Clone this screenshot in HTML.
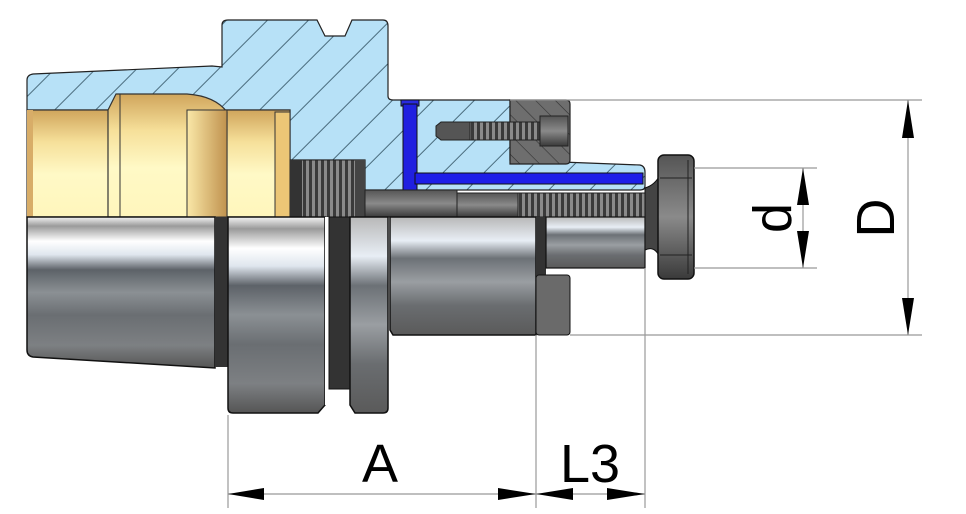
<!DOCTYPE html>
<html><head><meta charset="utf-8"><style>
html,body{margin:0;padding:0;background:#fff;}
svg{display:block;}
text{font-family:"Liberation Sans",sans-serif;fill:#000;}
</style></head><body>
<svg width="966" height="514" viewBox="0 0 966 514" xmlns="http://www.w3.org/2000/svg">
<defs>
<pattern id="hatch" patternUnits="userSpaceOnUse" width="29" height="29" patternTransform="rotate(-45)">
<rect width="29" height="29" fill="#b7e1f7"/>
<line x1="0" y1="0" x2="29" y2="0" stroke="#2a4a5a" stroke-width="1.6"/>
</pattern>
<pattern id="hatch2" patternUnits="userSpaceOnUse" width="14" height="14" patternTransform="rotate(45)">
<rect width="14" height="14" fill="#6e6e6e"/>
<line x1="0" y1="0" x2="14" y2="0" stroke="#333" stroke-width="1.2"/>
</pattern>
<linearGradient id="gold" x1="0" y1="0" x2="0" y2="1">
<stop offset="0" stop-color="#d0a55c"/><stop offset="0.3" stop-color="#f6e09a"/><stop offset="0.6" stop-color="#fff9c6"/><stop offset="1" stop-color="#fff6bc"/>
</linearGradient>
<linearGradient id="goldR" x1="0" y1="0" x2="1" y2="0">
<stop offset="0" stop-color="#fae8a8"/><stop offset="1" stop-color="#c0924e"/>
</linearGradient>
<linearGradient id="steel" x1="0" y1="0" x2="0" y2="1">
<stop offset="0" stop-color="#f4f4f4"/><stop offset="0.06" stop-color="#9a9a9a"/><stop offset="0.16" stop-color="#ffffff"/><stop offset="0.25" stop-color="#dfe6ee"/><stop offset="0.35" stop-color="#5d6268"/><stop offset="0.5" stop-color="#8b9094"/><stop offset="0.65" stop-color="#6a6e72"/><stop offset="0.85" stop-color="#7d8083"/><stop offset="1" stop-color="#555"/>
</linearGradient>
<linearGradient id="steel2" x1="0" y1="0" x2="0" y2="1">
<stop offset="0" stop-color="#b8b8b8"/><stop offset="0.2" stop-color="#e8eef5"/><stop offset="0.35" stop-color="#6c7176"/><stop offset="0.55" stop-color="#9a9ea2"/><stop offset="0.75" stop-color="#6a6d70"/><stop offset="1" stop-color="#5a5a5a"/>
</linearGradient>
<linearGradient id="dark" x1="0" y1="0" x2="0" y2="1">
<stop offset="0" stop-color="#555"/><stop offset="0.5" stop-color="#8a8a8a"/><stop offset="1" stop-color="#3a3a3a"/>
</linearGradient>
<pattern id="thread" patternUnits="userSpaceOnUse" width="6" height="10">
<rect width="6" height="10" fill="#3a3a3a"/><rect x="0" width="3" height="10" fill="#8a8a8a"/>
</pattern>
</defs>

<path d="M27,80 Q27,75 33,74 L212,66 L222,67 L222,25 Q222,20 228,20 L317,20 L325,36 L345,36 L352,20 L383,20 Q388,20 388,26 L388,96 Q388,100 393,100 L510,100 L510,160 L640,165 Q645,166 645,172 L645,186 Q645,190 640,190 L365,190 L365,160 L290,160 L290,110 L27,110 Z" fill="url(#hatch)" stroke="#222" stroke-width="1.2"/>

<path d="M510,100 L566,100 Q570,100 570,104 L570,160 Q570,164 566,164 L510,164 Z" fill="url(#hatch2)" stroke="#222" stroke-width="1.2"/>
<path d="M436,126 L441,122 L540,122 L540,140 L441,140 L436,136 Z" fill="#555" stroke="#222"/>
<rect x="470" y="122" width="70" height="18" fill="url(#thread)" stroke="#222"/>
<rect x="540" y="116" width="28" height="30" fill="url(#dark)" stroke="#222"/>

<rect x="401" y="100" width="18" height="6" fill="#2a2ae0" stroke="#111"/>
<rect x="403" y="104" width="14" height="88" fill="#2020e0" stroke="#111"/>
<rect x="415" y="173" width="228" height="11" fill="#1e1ee8" stroke="#111"/>

<rect x="27" y="110" width="263" height="107" fill="url(#gold)" stroke="#333" stroke-width="1.2"/>
<path d="M108,110 L116,94 L187,94 Q215,96 227,112 L227,217 L108,217 Z" fill="url(#gold)" stroke="#333" stroke-width="1.2"/>
<rect x="187" y="110" width="40" height="107" fill="url(#goldR)" stroke="#333"/>
<line x1="120" y1="94" x2="120" y2="217" stroke="#333"/>
<line x1="108" y1="110" x2="108" y2="217" stroke="#333"/>
<rect x="275" y="112" width="15" height="105" fill="#ecc676" stroke="#333"/>
<rect x="27" y="110" width="6" height="107" fill="#d8ad68"/>

<rect x="290" y="160" width="75" height="57" fill="url(#thread)" stroke="#222"/>
<rect x="290" y="160" width="12" height="57" fill="#333"/>
<rect x="355" y="160" width="10" height="57" fill="#444"/>
<rect x="365" y="190" width="92" height="27" fill="url(#dark)" stroke="#222"/>
<rect x="457" y="193" width="83" height="24" fill="url(#dark)" stroke="#222"/>
<rect x="518" y="193" width="140" height="24" fill="url(#thread)" stroke="#222"/>

<path d="M27,217 L215,217 L215,368 L33,357 Q27,356 27,350 Z" fill="url(#steel)" stroke="#111" stroke-width="1.5"/>
<rect x="215" y="217" width="13" height="150" fill="#333"/>
<path d="M228,217 L325,217 L325,405 L318,413 L233,413 Q228,413 228,408 Z" fill="url(#steel)" stroke="#111" stroke-width="1.5"/>
<rect x="325" y="217" width="5" height="188" fill="#fff"/>
<rect x="329" y="217" width="21" height="172" fill="#333" stroke="#111"/>
<path d="M350,217 L388,217 L388,408 Q388,413 383,413 L355,413 L350,405 Z" fill="url(#steel2)" stroke="#111" stroke-width="1.5"/>
<path d="M390,217 L536,217 L536,335 L393,335 L390,330 Z" fill="url(#steel2)" stroke="#111" stroke-width="1.5"/>
<rect x="536" y="217" width="10" height="58" fill="#333"/>
<rect x="536" y="275" width="34" height="60" rx="3" fill="#6a6a6a" stroke="#111"/>
<rect x="546" y="217" width="99" height="51" fill="url(#steel2)" stroke="#111" stroke-width="1.2"/>

<path d="M645,188 Q655,185 660,175 L660,258 Q655,245 645,250 Z" fill="#444" stroke="#111"/>
<rect x="658" y="155" width="36" height="124" rx="6" fill="url(#dark)" stroke="#111" stroke-width="1.5"/>
<line x1="660" y1="178" x2="692" y2="178" stroke="#222"/>
<line x1="660" y1="255" x2="692" y2="255" stroke="#222"/>
<line x1="688" y1="160" x2="688" y2="274" stroke="#222"/>

<g stroke="#999" stroke-width="1.2" fill="none">
<line x1="510" y1="100" x2="922" y2="100"/>
<line x1="570" y1="335" x2="922" y2="335"/>
<line x1="694" y1="168" x2="817" y2="168"/>
<line x1="694" y1="268" x2="817" y2="268"/>
<line x1="228" y1="415" x2="228" y2="508"/>
<line x1="536" y1="335" x2="536" y2="508"/>
<line x1="645" y1="268" x2="645" y2="508"/>
<line x1="228" y1="494" x2="645" y2="494"/>
<line x1="908" y1="100" x2="908" y2="335"/>
<line x1="803" y1="168" x2="803" y2="268"/>
</g>
<g fill="#000">
<polygon points="228,494 264,488 264,500"/>
<polygon points="536,494 498,488 498,500"/>
<polygon points="536,494 573,488 573,500"/>
<polygon points="645,494 607,488 607,500"/>
<polygon points="908,100 902,138 914,138"/>
<polygon points="908,335 902,298 914,298"/>
<polygon points="803,168 797,205 809,205"/>
<polygon points="803,268 797,231 809,231"/>
</g>
<text x="380" y="482" font-size="54" text-anchor="middle">A</text>
<text x="590" y="482" font-size="54" text-anchor="middle">L3</text>
<text transform="translate(791,218) rotate(-90)" font-size="54" text-anchor="middle">d</text>
<text transform="translate(894,218) rotate(-90)" font-size="54" text-anchor="middle">D</text>
</svg>
</body></html>
